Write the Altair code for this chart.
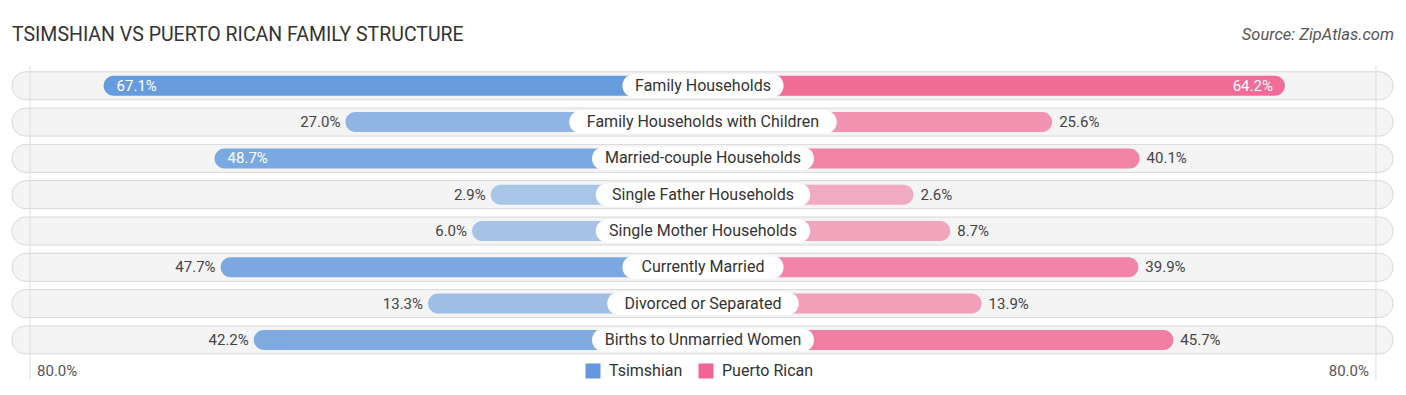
import altair as alt
import pandas as pd

# ---------------- data ----------------
categories = [
    "Family Households",
    "Family Households with Children",
    "Married-couple Households",
    "Single Father Households",
    "Single Mother Households",
    "Currently Married",
    "Divorced or Separated",
    "Births to Unmarried Women",
]
tsimshian = [67.1, 27.0, 48.7, 2.9, 6.0, 47.7, 13.3, 42.2]
puerto_rican = [64.2, 25.6, 40.1, 2.6, 8.7, 39.9, 13.9, 45.7]
series = ["Tsimshian", "Puerto Rican"]
series_colors = ["#6399DC", "#F06592"]
axis_max = 80.0
title_text = "TSIMSHIAN VS PUERTO RICAN FAMILY STRUCTURE"
source_text = "Source: ZipAtlas.com"

# ---------------- layout constants ----------------
W, H = 1390, 379
PXU = 6.03          # pixels per percentage point
OFFSET = 32.3       # units of bar hidden under the centre label
HALF = W / 2 / PXU
ROW_STEP = 36.3
ROW0 = 77.8
FONT = "Roboto"

x_scale = alt.Scale(domain=[-HALF, HALF], nice=False, zero=False, padding=0)
y_scale = alt.Scale(domain=[-ROW0 / ROW_STEP, (H - ROW0) / ROW_STEP], nice=False, zero=False,
                    reverse=True, padding=0)

rows = pd.DataFrame({"row": list(range(len(categories))), "cat": categories})
long = pd.concat([
    pd.DataFrame({"row": rows["row"], "cat": categories, "series": series[0], "value": tsimshian, "sign": -1}),
    pd.DataFrame({"row": rows["row"], "cat": categories, "series": series[1], "value": puerto_rican, "sign": 1}),
], ignore_index=True)


def X(f):
    return alt.X(f, type="quantitative", scale=x_scale, axis=None)


Y = alt.Y("row:Q", scale=y_scale, axis=None)

# row background pills
bg = alt.Chart(rows).mark_bar(
    height=28, cornerRadius=14, fill="#F4F4F4", stroke="#D8D8D8", strokeWidth=1
).encode(x=alt.value(4), x2=alt.value(W - 5), y=Y)

# gridlines at +/- axis_max
grid_df = pd.DataFrame({"g": [-axis_max, axis_max]})
grid = alt.Chart(grid_df).transform_calculate(
    gx=f"datum.g < 0 ? datum.g - {OFFSET} + 0.7 : datum.g + {OFFSET} - 0.7"
).mark_rule(color="#DDDDDD", strokeWidth=1).encode(
    x=X("gx"), y=alt.value(58), y2=alt.value(372)
)

base = alt.Chart(long).transform_calculate(
    pos=f"datum.sign * (datum.value + {OFFSET})",
    zero="0",
    label="format(datum.value, '.1f') + '%'",
)

bars = base.mark_bar(height=20, cornerRadius=10).encode(
    x=X("pos"), x2=alt.X2("zero:Q"), y=Y,
    color=alt.Color("series:N", scale=alt.Scale(domain=series, range=series_colors),
                    legend=alt.Legend(orient="none", legendX=577, legendY=355, direction="horizontal",
                                      title=None, symbolType="square", symbolSize=225,
                                      symbolStrokeWidth=0, labelFont=FONT, labelFontSize=16,
                                      labelColor="#333333", labelOffset=8, columnPadding=15)),
    opacity=alt.Opacity("value:Q", scale=alt.Scale(domain=[0, 70], range=[0.5, 1.0]), legend=None),
)

INSIDE = 48.0
txt = dict(font=FONT, fontSize=15, baseline="middle")
blue_in = base.transform_filter(f"datum.series == '{series[0]}' && datum.value > {INSIDE}").mark_text(
    align="left", dx=13, color="white", **txt).encode(x=X("pos"), y=Y, text="label:N")
blue_out = base.transform_filter(f"datum.series == '{series[0]}' && datum.value <= {INSIDE}").mark_text(
    align="right", dx=-5, color="#444444", **txt).encode(x=X("pos"), y=Y, text="label:N")
pink_in = base.transform_filter(f"datum.series == '{series[1]}' && datum.value > {INSIDE}").mark_text(
    align="right", dx=-12, color="white", **txt).encode(x=X("pos"), y=Y, text="label:N")
pink_out = base.transform_filter(f"datum.series == '{series[1]}' && datum.value <= {INSIDE}").mark_text(
    align="left", dx=7, color="#444444", **txt).encode(x=X("pos"), y=Y, text="label:N")

# centre category labels with white pill boxes
lab = alt.Chart(rows).transform_calculate(
    hw=f"(length(datum.cat) * 7.6 + 32) / 2 / {PXU}",
    nhw="-datum.hw",
    zero="0",
)
boxes = lab.mark_bar(height=23, cornerRadius=11.5, fill="white").encode(
    x=X("nhw"), x2=alt.X2("hw:Q"), y=Y)
names = lab.mark_text(font=FONT, fontSize=16, color="#333333", baseline="middle", align="center").encode(
    x=X("zero"), y=Y, text="cat:N")

# axis end labels
ax_base = alt.Chart(grid_df).transform_calculate(
    gx=f"datum.g < 0 ? datum.g - {OFFSET} + 0.7 : datum.g + {OFFSET} - 0.7",
    label="format(abs(datum.g), '.1f') + '%'",
)
ax_left = ax_base.transform_filter("datum.g < 0").mark_text(
    font=FONT, fontSize=15, color="#555555", align="left", baseline="middle", dx=7
).encode(x=X("gx"), y=alt.value(363), text="label:N")
ax_right = ax_base.transform_filter("datum.g > 0").mark_text(
    font=FONT, fontSize=15, color="#555555", align="right", baseline="middle", dx=-7
).encode(x=X("gx"), y=alt.value(363), text="label:N")

# title and source
title = alt.Chart(pd.DataFrame({"t": [title_text]})).mark_text(
    font=FONT, fontSize=19.5, color="#333333", align="left", baseline="alphabetic"
).encode(x=alt.value(4), y=alt.value(33), text="t:N")
source = alt.Chart(pd.DataFrame({"t": [source_text]})).mark_text(
    font=FONT, fontSize=16.5, fontStyle="italic", color="#555555", align="right", baseline="alphabetic"
).encode(x=alt.value(W - 4), y=alt.value(32), text="t:N")

chart = alt.layer(
    bg, grid, bars, boxes, names,
    blue_in, blue_out, pink_in, pink_out, ax_left, ax_right, title, source
).properties(
    width=W, height=H, padding=0, autosize="none"
).configure_view(stroke=None)

chart.save("out.html", embed_options={"renderer": "svg", "actions": False})
